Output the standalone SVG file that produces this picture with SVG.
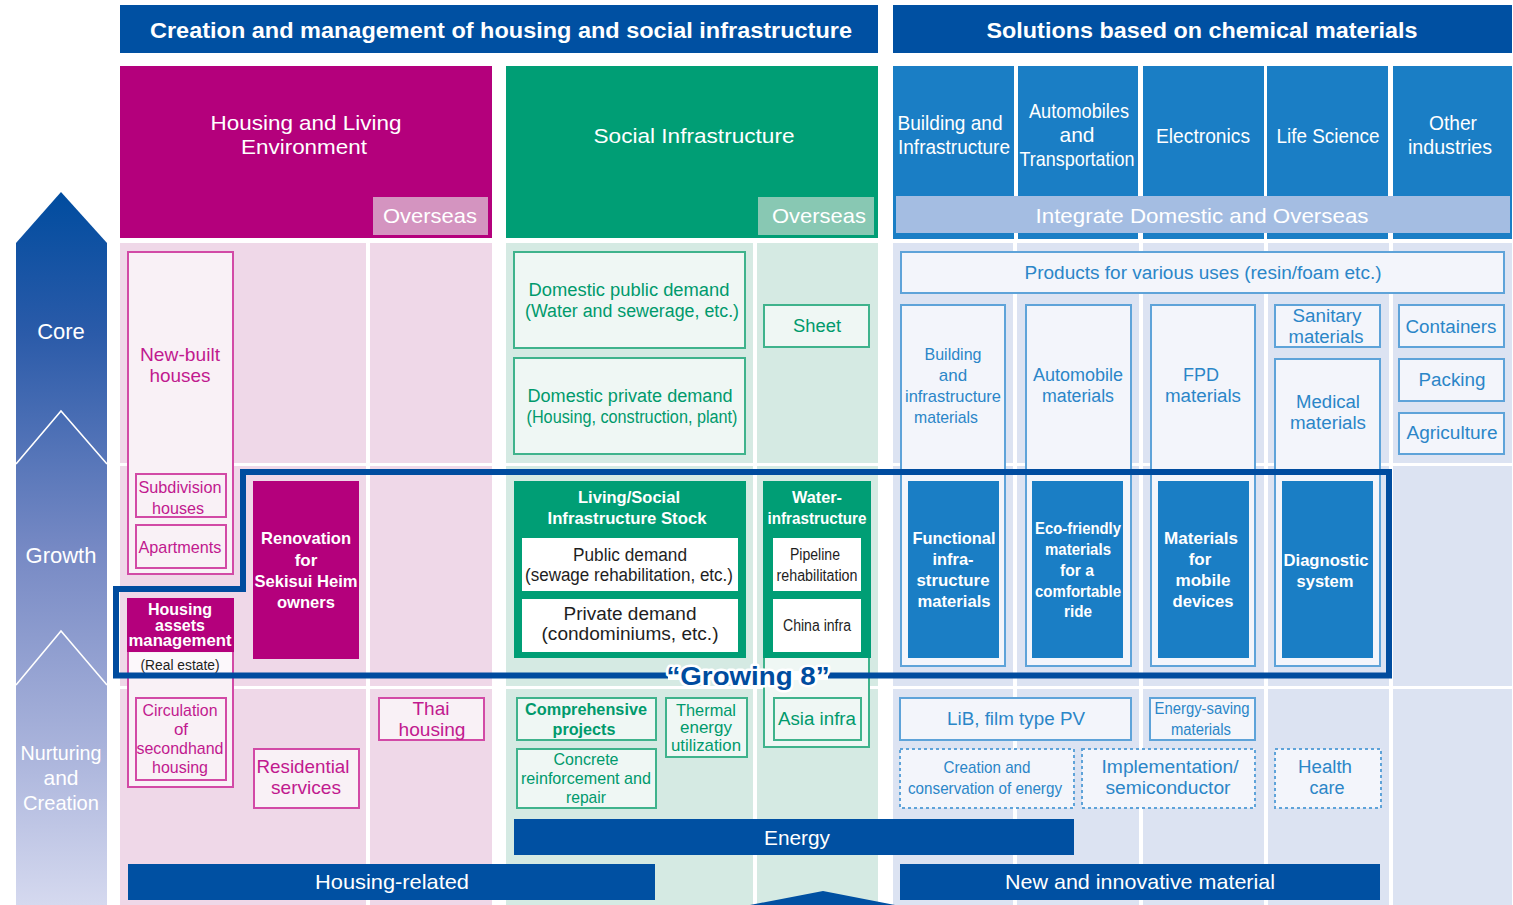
<svg xmlns="http://www.w3.org/2000/svg" width="1513" height="905" viewBox="0 0 1513 905">
<defs>
<linearGradient id="stageGrad" x1="0" y1="192" x2="0" y2="905" gradientUnits="userSpaceOnUse">
<stop offset="0" stop-color="#004c9f"/>
<stop offset="0.2" stop-color="#2b5ba9"/>
<stop offset="0.5" stop-color="#7689c4"/>
<stop offset="0.78" stop-color="#a9b3db"/>
<stop offset="1" stop-color="#d5d9ef"/>
</linearGradient>
<style>
text{font-family:"Liberation Sans",Arial,sans-serif;text-anchor:middle}
.w{fill:#fff}
.b{font-weight:bold}
.mg{fill:#c11a8f}
.gr{fill:#009a6c}
.bl{fill:#2b86c8}
.dk{fill:#1e1e1e}
.s14{font-size:14px}.s16{font-size:16px}.s17{font-size:17px}.s18{font-size:18px}.s19{font-size:19px}.s21{font-size:21px}.s22{font-size:22px}
.navy{fill:#0050a2}
.pk{fill:#efd8e8}.lg{fill:#d5eae3}.lb{fill:#dce3f2}
.boxm{fill:#f9f1f6;stroke:#d24aa6;stroke-width:2}
.boxg{fill:#eff7f4;stroke:#3fb38c;stroke-width:2}
.boxb{fill:#f3f5fb;stroke:#5ea3d9;stroke-width:2}
.dot{fill:#f3f5fb;stroke:#5ea3d9;stroke-width:2;stroke-dasharray:3 3}
.fm{fill:#b4007c}.fg{fill:#009e75}.fb{fill:#1a7ec5}
</style>
</defs>
<rect width="1513" height="905" fill="#fff"/>

<!-- stage arrow on the left -->
<g id="stage-arrow">
<polygon points="16,243 61,192 107,243 107,905 16,905" fill="url(#stageGrad)"/>
<polyline points="16,464 61,411 107,464" fill="none" stroke="#fff" stroke-width="1.6"/>
<polyline points="16,685 61,631 107,685" fill="none" stroke="#fff" stroke-width="1.6"/>
<text x="61" y="339" class="w s22">Core</text>
<text x="61" y="563" class="w s22">Growth</text>
<text x="61" y="760" class="w s21" textLength="81" lengthAdjust="spacingAndGlyphs">Nurturing</text>
<text x="61" y="785" class="w s21">and</text>
<text x="61" y="810" class="w s21" textLength="76" lengthAdjust="spacingAndGlyphs">Creation</text>
</g>

<!-- top headers -->
<g id="header-housing-infra">
<rect x="120" y="5" width="758" height="48" class="navy"/>
<text x="501" y="38" class="w b s22" textLength="702" lengthAdjust="spacingAndGlyphs">Creation and management of housing and social infrastructure</text>
</g>
<g id="header-chemical">
<rect x="893" y="5" width="619" height="48" class="navy"/>
<text x="1202" y="38" class="w b s22" textLength="431" lengthAdjust="spacingAndGlyphs">Solutions based on chemical materials</text>
</g>

<!-- body cells -->
<g id="body-cells">
<rect x="120" y="243" width="246" height="220" class="pk"/>
<rect x="370" y="243" width="122" height="220" class="pk"/>
<rect x="120" y="466" width="246" height="220" class="pk"/>
<rect x="370" y="466" width="122" height="220" class="pk"/>
<rect x="120" y="689" width="246" height="216" class="pk"/>
<rect x="370" y="689" width="122" height="216" class="pk"/>
<rect x="506" y="243" width="247" height="220" class="lg"/>
<rect x="757" y="243" width="121" height="220" class="lg"/>
<rect x="506" y="466" width="247" height="220" class="lg"/>
<rect x="757" y="466" width="121" height="220" class="lg"/>
<rect x="506" y="689" width="247" height="216" class="lg"/>
<rect x="757" y="689" width="121" height="216" class="lg"/>
<rect x="893" y="243" width="120" height="220" class="lb"/>
<rect x="1017" y="243" width="122" height="220" class="lb"/>
<rect x="1143" y="243" width="121" height="220" class="lb"/>
<rect x="1268" y="243" width="121" height="220" class="lb"/>
<rect x="1393" y="243" width="119" height="220" class="lb"/>
<rect x="893" y="466" width="120" height="220" class="lb"/>
<rect x="1017" y="466" width="122" height="220" class="lb"/>
<rect x="1143" y="466" width="121" height="220" class="lb"/>
<rect x="1268" y="466" width="121" height="220" class="lb"/>
<rect x="1393" y="466" width="119" height="220" class="lb"/>
<rect x="893" y="689" width="120" height="216" class="lb"/>
<rect x="1017" y="689" width="122" height="216" class="lb"/>
<rect x="1143" y="689" width="121" height="216" class="lb"/>
<rect x="1268" y="689" width="121" height="216" class="lb"/>
<rect x="1393" y="689" width="119" height="216" class="lb"/>
</g>

<!-- segment headers -->
<g id="housing-living">
<rect x="120" y="66" width="372" height="172" class="fm"/>
<text x="306" y="130" class="w s21" textLength="191" lengthAdjust="spacingAndGlyphs">Housing and Living</text>
<text x="304" y="154" class="w s21" textLength="126" lengthAdjust="spacingAndGlyphs">Environment</text>
<rect x="373" y="197" width="115" height="38" fill="#d494c0"/>
<text x="430" y="223" class="w s21" textLength="94" lengthAdjust="spacingAndGlyphs">Overseas</text>
</g>
<g id="social-infra">
<rect x="506" y="66" width="372" height="172" class="fg"/>
<text x="694" y="143" class="w s21" textLength="201" lengthAdjust="spacingAndGlyphs">Social Infrastructure</text>
<rect x="758" y="197" width="116" height="38" fill="#88c8b3"/>
<text x="819" y="223" class="w s21" textLength="94" lengthAdjust="spacingAndGlyphs">Overseas</text>
</g>
<g id="chem-building">
<rect x="893" y="66" width="121" height="173" class="fb"/>
<text x="950" y="130" class="w s21" textLength="105" lengthAdjust="spacingAndGlyphs">Building and</text>
<text x="954" y="154" class="w s21" textLength="112" lengthAdjust="spacingAndGlyphs">Infrastructure</text>
</g>
<g id="chem-auto">
<rect x="1018" y="66" width="120" height="173" class="fb"/>
<text x="1079" y="118" class="w s21" textLength="100" lengthAdjust="spacingAndGlyphs">Automobiles</text>
<text x="1077" y="142" class="w s21">and</text>
<text x="1077" y="166" class="w s21" textLength="115" lengthAdjust="spacingAndGlyphs">Transportation</text>
</g>
<g id="chem-electronics">
<rect x="1143" y="66" width="121" height="173" class="fb"/>
<text x="1203" y="143" class="w s21" textLength="94" lengthAdjust="spacingAndGlyphs">Electronics</text>
</g>
<g id="chem-life">
<rect x="1267" y="66" width="121" height="173" class="fb"/>
<text x="1328" y="143" class="w s21" textLength="103" lengthAdjust="spacingAndGlyphs">Life Science</text>
</g>
<g id="chem-other">
<rect x="1393" y="66" width="119" height="173" class="fb"/>
<text x="1453" y="130" class="w s21" textLength="48" lengthAdjust="spacingAndGlyphs">Other</text>
<text x="1450" y="154" class="w s21" textLength="84" lengthAdjust="spacingAndGlyphs">industries</text>
</g>
<g id="integrate">
<rect x="896" y="196" width="614" height="37" fill="#a4bde2"/>
<text x="1202" y="223" class="w s21" textLength="333" lengthAdjust="spacingAndGlyphs">Integrate Domestic and Overseas</text>
</g>

<!-- housing column -->
<g id="new-built">
<rect x="128" y="252" width="105" height="322" class="boxm"/>
<text x="180" y="361" class="mg s19" textLength="80" lengthAdjust="spacingAndGlyphs">New-built</text>
<text x="180" y="382" class="mg s19" textLength="61" lengthAdjust="spacingAndGlyphs">houses</text>
</g>
<g id="subdivision">
<rect x="136" y="474" width="90" height="43" class="boxm"/>
<text x="180" y="493" class="mg s17" textLength="83" lengthAdjust="spacingAndGlyphs">Subdivision</text>
<text x="178" y="514" class="mg s17" textLength="52" lengthAdjust="spacingAndGlyphs">houses</text>
</g>
<g id="apartments">
<rect x="136" y="525" width="90" height="43" class="boxm"/>
<text x="180" y="553" class="mg s17" textLength="83" lengthAdjust="spacingAndGlyphs">Apartments</text>
</g>
<g id="renovation">
<rect x="253" y="481" width="106" height="178" class="fm"/>
<text x="306" y="544" class="w b s17" textLength="90" lengthAdjust="spacingAndGlyphs">Renovation</text>
<text x="306" y="566" class="w b s17">for</text>
<text x="306" y="587" class="w b s17" textLength="103" lengthAdjust="spacingAndGlyphs">Sekisui Heim</text>
<text x="306" y="608" class="w b s17" textLength="58" lengthAdjust="spacingAndGlyphs">owners</text>
</g>
<g id="assets-mgmt">
<rect x="128" y="599" width="105" height="188" class="boxm"/>
<rect x="127" y="598" width="107" height="54" class="fm"/>
<text x="180" y="615" class="w b s16" textLength="64" lengthAdjust="spacingAndGlyphs">Housing</text>
<text x="180" y="631" class="w b s16">assets</text>
<text x="180" y="646" class="w b s16" textLength="103" lengthAdjust="spacingAndGlyphs">management</text>
<rect x="129" y="653" width="103" height="19" fill="#fcf8fb"/>
<text x="180" y="670" class="dk s14" textLength="79" lengthAdjust="spacingAndGlyphs">(Real estate)</text>
</g>
<g id="circulation">
<rect x="136" y="698" width="90" height="82" class="boxm"/>
<text x="180" y="716" class="mg s17" textLength="75" lengthAdjust="spacingAndGlyphs">Circulation</text>
<text x="181" y="735" class="mg s17">of</text>
<text x="180" y="754" class="mg s17" textLength="87" lengthAdjust="spacingAndGlyphs">secondhand</text>
<text x="180" y="773" class="mg s17" textLength="56" lengthAdjust="spacingAndGlyphs">housing</text>
</g>
<g id="residential">
<rect x="254" y="749" width="105" height="59" class="boxm"/>
<text x="303" y="773" class="mg s19" textLength="93" lengthAdjust="spacingAndGlyphs">Residential</text>
<text x="306" y="794" class="mg s19" textLength="70" lengthAdjust="spacingAndGlyphs">services</text>
</g>
<g id="thai">
<rect x="379" y="698" width="105" height="42" class="boxm"/>
<text x="431" y="715" class="mg s19">Thai</text>
<text x="432" y="736" class="mg s19" textLength="67" lengthAdjust="spacingAndGlyphs">housing</text>
</g>

<!-- social infrastructure column -->
<g id="public-demand">
<rect x="514" y="252" width="231" height="96" class="boxg"/>
<text x="629" y="296" class="gr s18" textLength="201" lengthAdjust="spacingAndGlyphs">Domestic public demand</text>
<text x="632" y="317" class="gr s18" textLength="214" lengthAdjust="spacingAndGlyphs">(Water and sewerage, etc.)</text>
</g>
<g id="private-demand">
<rect x="514" y="358" width="231" height="96" class="boxg"/>
<text x="630" y="402" class="gr s18" textLength="205" lengthAdjust="spacingAndGlyphs">Domestic private demand</text>
<text x="632" y="423" class="gr s18" textLength="211" lengthAdjust="spacingAndGlyphs">(Housing, construction, plant)</text>
</g>
<g id="sheet">
<rect x="764" y="305" width="105" height="42" class="boxg"/>
<text x="817" y="332" class="gr s18" textLength="48" lengthAdjust="spacingAndGlyphs">Sheet</text>
</g>
<g id="stock">
<rect x="514" y="481" width="232" height="177" class="fg"/>
<text x="629" y="503" class="w b s17" textLength="102" lengthAdjust="spacingAndGlyphs">Living/Social</text>
<text x="627" y="524" class="w b s17" textLength="159" lengthAdjust="spacingAndGlyphs">Infrastructure Stock</text>
<rect x="522" y="538" width="216" height="53" fill="#fff"/>
<text x="630" y="561" class="dk s18" textLength="114" lengthAdjust="spacingAndGlyphs">Public demand</text>
<text x="629" y="581" class="dk s18" textLength="208" lengthAdjust="spacingAndGlyphs">(sewage rehabilitation, etc.)</text>
<rect x="522" y="599" width="216" height="53" fill="#fff"/>
<text x="630" y="620" class="dk s18" textLength="133" lengthAdjust="spacingAndGlyphs">Private demand</text>
<text x="630" y="640" class="dk s18" textLength="177" lengthAdjust="spacingAndGlyphs">(condominiums, etc.)</text>
</g>
<g id="water-infra">
<rect x="764" y="482" width="105" height="265" class="boxg"/>
<rect x="763" y="481" width="108" height="177" class="fg"/>
<text x="817" y="503" class="w b s17" textLength="50" lengthAdjust="spacingAndGlyphs">Water-</text>
<text x="817" y="524" class="w b s17" textLength="99" lengthAdjust="spacingAndGlyphs">infrastructure</text>
<rect x="773" y="538" width="88" height="53" fill="#fff"/>
<text x="815" y="560" class="dk s16" textLength="50" lengthAdjust="spacingAndGlyphs">Pipeline</text>
<text x="817" y="581" class="dk s16" textLength="81" lengthAdjust="spacingAndGlyphs">rehabilitation</text>
<rect x="773" y="599" width="88" height="53" fill="#fff"/>
<text x="817" y="631" class="dk s16" textLength="68" lengthAdjust="spacingAndGlyphs">China infra</text>
</g>
<g id="asia-infra">
<rect x="774" y="698" width="87" height="42" class="boxg"/>
<text x="817" y="725" class="gr s18" textLength="78" lengthAdjust="spacingAndGlyphs">Asia infra</text>
</g>
<g id="comprehensive">
<rect x="517" y="698" width="139" height="42" class="boxg"/>
<text x="586" y="715" class="gr b s17" textLength="122" lengthAdjust="spacingAndGlyphs">Comprehensive</text>
<text x="584" y="735" class="gr b s17" textLength="63" lengthAdjust="spacingAndGlyphs">projects</text>
</g>
<g id="concrete">
<rect x="517" y="749" width="139" height="59" class="boxg"/>
<text x="586" y="765" class="gr s17" textLength="65" lengthAdjust="spacingAndGlyphs">Concrete</text>
<text x="586" y="784" class="gr s17" textLength="130" lengthAdjust="spacingAndGlyphs">reinforcement and</text>
<text x="586" y="803" class="gr s17" textLength="40" lengthAdjust="spacingAndGlyphs">repair</text>
</g>
<g id="thermal">
<rect x="666" y="698" width="81" height="59" class="boxg"/>
<text x="706" y="716" class="gr s17" textLength="60" lengthAdjust="spacingAndGlyphs">Thermal</text>
<text x="706" y="733" class="gr s17" textLength="52" lengthAdjust="spacingAndGlyphs">energy</text>
<text x="706" y="751" class="gr s17" textLength="70" lengthAdjust="spacingAndGlyphs">utilization</text>
</g>

<!-- chemical materials columns -->
<g id="products">
<rect x="901" y="252" width="603" height="41" class="boxb"/>
<text x="1203" y="279" class="bl s18" textLength="357" lengthAdjust="spacingAndGlyphs">Products for various uses (resin/foam etc.)</text>
</g>
<g id="building-materials">
<rect x="901" y="305" width="104" height="361" class="boxb"/>
<text x="953" y="360" class="bl s17" textLength="57" lengthAdjust="spacingAndGlyphs">Building</text>
<text x="953" y="381" class="bl s17">and</text>
<text x="953" y="402" class="bl s17" textLength="96" lengthAdjust="spacingAndGlyphs">infrastructure</text>
<text x="946" y="423" class="bl s17" textLength="64" lengthAdjust="spacingAndGlyphs">materials</text>
<rect x="908" y="481" width="91" height="177" class="fb"/>
<text x="954" y="544" class="w b s17" textLength="83" lengthAdjust="spacingAndGlyphs">Functional</text>
<text x="953" y="565" class="w b s17" textLength="41" lengthAdjust="spacingAndGlyphs">infra-</text>
<text x="953" y="586" class="w b s17" textLength="73" lengthAdjust="spacingAndGlyphs">structure</text>
<text x="954" y="607" class="w b s17" textLength="73" lengthAdjust="spacingAndGlyphs">materials</text>
</g>
<g id="auto-materials">
<rect x="1026" y="305" width="105" height="361" class="boxb"/>
<text x="1078" y="381" class="bl s18" textLength="90" lengthAdjust="spacingAndGlyphs">Automobile</text>
<text x="1078" y="402" class="bl s18" textLength="72" lengthAdjust="spacingAndGlyphs">materials</text>
<rect x="1032" y="481" width="91" height="177" class="fb"/>
<text x="1078" y="534" class="w b s17" textLength="86" lengthAdjust="spacingAndGlyphs">Eco-friendly</text>
<text x="1078" y="555" class="w b s17" textLength="66" lengthAdjust="spacingAndGlyphs">materials</text>
<text x="1077" y="576" class="w b s17" textLength="34" lengthAdjust="spacingAndGlyphs">for a</text>
<text x="1078" y="597" class="w b s17" textLength="86" lengthAdjust="spacingAndGlyphs">comfortable</text>
<text x="1078" y="617" class="w b s17" textLength="28" lengthAdjust="spacingAndGlyphs">ride</text>
</g>
<g id="fpd-materials">
<rect x="1151" y="305" width="104" height="361" class="boxb"/>
<text x="1201" y="381" class="bl s18">FPD</text>
<text x="1203" y="402" class="bl s18" textLength="76" lengthAdjust="spacingAndGlyphs">materials</text>
<rect x="1158" y="481" width="91" height="177" class="fb"/>
<text x="1201" y="544" class="w b s17" textLength="74" lengthAdjust="spacingAndGlyphs">Materials</text>
<text x="1200" y="565" class="w b s17">for</text>
<text x="1203" y="586" class="w b s17" textLength="55" lengthAdjust="spacingAndGlyphs">mobile</text>
<text x="1203" y="607" class="w b s17" textLength="61" lengthAdjust="spacingAndGlyphs">devices</text>
</g>
<g id="sanitary">
<rect x="1275" y="305" width="105" height="42" class="boxb"/>
<text x="1327" y="322" class="bl s18" textLength="69" lengthAdjust="spacingAndGlyphs">Sanitary</text>
<text x="1326" y="343" class="bl s18" textLength="75" lengthAdjust="spacingAndGlyphs">materials</text>
</g>
<g id="medical">
<rect x="1275" y="359" width="105" height="307" class="boxb"/>
<text x="1328" y="408" class="bl s18" textLength="64" lengthAdjust="spacingAndGlyphs">Medical</text>
<text x="1328" y="429" class="bl s18" textLength="76" lengthAdjust="spacingAndGlyphs">materials</text>
<rect x="1282" y="481" width="91" height="177" class="fb"/>
<text x="1326" y="566" class="w b s17" textLength="85" lengthAdjust="spacingAndGlyphs">Diagnostic</text>
<text x="1325" y="587" class="w b s17" textLength="57" lengthAdjust="spacingAndGlyphs">system</text>
</g>
<g id="containers">
<rect x="1399" y="305" width="105" height="42" class="boxb"/>
<text x="1451" y="333" class="bl s18" textLength="91" lengthAdjust="spacingAndGlyphs">Containers</text>
</g>
<g id="packing">
<rect x="1399" y="359" width="105" height="42" class="boxb"/>
<text x="1452" y="386" class="bl s18" textLength="67" lengthAdjust="spacingAndGlyphs">Packing</text>
</g>
<g id="agriculture">
<rect x="1399" y="413" width="105" height="41" class="boxb"/>
<text x="1452" y="439" class="bl s18" textLength="91" lengthAdjust="spacingAndGlyphs">Agriculture</text>
</g>
<g id="lib-pv">
<rect x="900" y="698" width="231" height="42" class="boxb"/>
<text x="1016" y="725" class="bl s18" textLength="138" lengthAdjust="spacingAndGlyphs">LiB, film type PV</text>
</g>
<g id="energy-saving">
<rect x="1150" y="698" width="105" height="42" class="boxb"/>
<text x="1202" y="714" class="bl s16" textLength="95" lengthAdjust="spacingAndGlyphs">Energy-saving</text>
<text x="1201" y="735" class="bl s16" textLength="60" lengthAdjust="spacingAndGlyphs">materials</text>
</g>
<g id="energy-creation">
<rect x="900" y="749" width="174" height="59" class="dot"/>
<text x="987" y="773" class="bl s17" textLength="87" lengthAdjust="spacingAndGlyphs">Creation and</text>
<text x="985" y="794" class="bl s17" textLength="154" lengthAdjust="spacingAndGlyphs">conservation of energy</text>
</g>
<g id="implementation">
<rect x="1082" y="749" width="173" height="59" class="dot"/>
<text x="1170" y="773" class="bl s18" textLength="137" lengthAdjust="spacingAndGlyphs">Implementation/</text>
<text x="1168" y="794" class="bl s18" textLength="125" lengthAdjust="spacingAndGlyphs">semiconductor</text>
</g>
<g id="health-care">
<rect x="1275" y="749" width="106" height="59" class="dot"/>
<text x="1325" y="773" class="bl s18" textLength="54" lengthAdjust="spacingAndGlyphs">Health</text>
<text x="1327" y="794" class="bl s18">care</text>
</g>

<!-- bottom bands -->
<g id="energy-band">
<rect x="514" y="819" width="560" height="36" class="navy"/>
<text x="797" y="845" class="w s21" textLength="66" lengthAdjust="spacingAndGlyphs">Energy</text>
</g>
<g id="housing-related">
<rect x="128" y="864" width="527" height="36" class="navy"/>
<text x="392" y="889" class="w s21" textLength="154" lengthAdjust="spacingAndGlyphs">Housing-related</text>
</g>
<g id="new-material">
<rect x="900" y="864" width="480" height="36" class="navy"/>
<text x="1140" y="889" class="w s21" textLength="270" lengthAdjust="spacingAndGlyphs">New and innovative material</text>
</g>
<g id="bottom-arrow">
<polygon points="750,905 823,891 895,905" class="navy"/>
</g>

<!-- "Growing 8" frame -->
<g id="growing8">
<path d="M116,675.5 L116,589 L243,589 L243,472 L1389,472 L1389,675.5 Z" fill="none" stroke="#004c9f" stroke-width="6"/>
<rect x="668" y="671" width="160" height="9" fill="#fff"/>
<text x="748" y="685" class="b" font-size="26" fill="#004c9f" stroke="#fff" stroke-width="5" stroke-linejoin="round" paint-order="stroke" textLength="163" lengthAdjust="spacingAndGlyphs">“Growing 8”</text>
</g>
</svg>
